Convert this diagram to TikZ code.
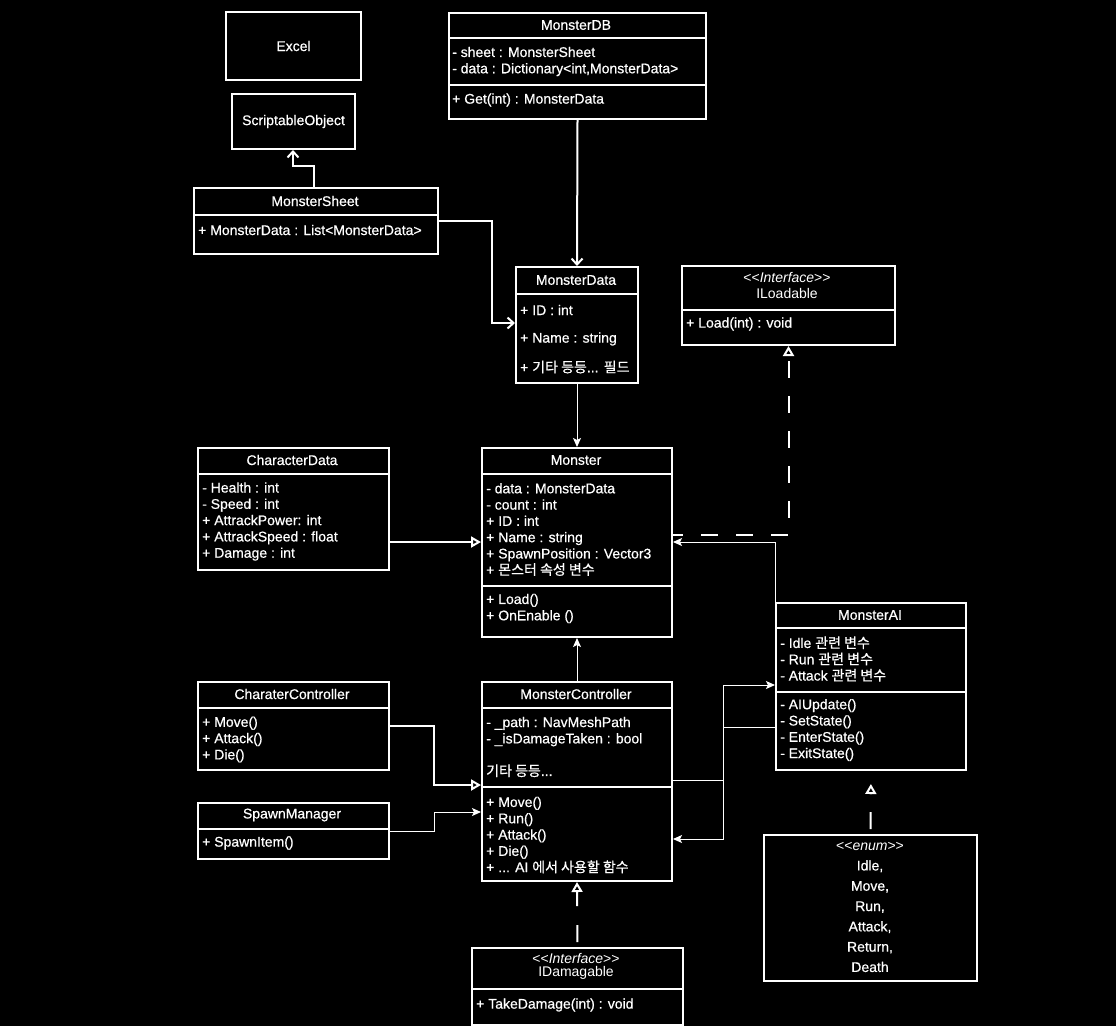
\documentclass[tikz,border=0pt]{standalone}
\usepackage{fontspec}
\setmainfont{Liberation Sans}[FakeBold=0.6]
\newfontfamily\plain{Liberation Sans}
\newfontfamily\kr{Noto Sans CJK KR}[FakeBold=0.6]
\usetikzlibrary{arrows.meta}
\tikzset{
  class-box/.style={
    draw=white,
    line width=2pt,
    inner sep=0pt,
    text=white,
    anchor=north west
  },
  sep-line/.style={draw=white, line width=1.5pt},
  title/.style={text=white, inner sep=0pt},
  rows/.style={text=white, inner sep=0pt, anchor=west, align=left},
  enum-rows/.style={
    text=white,
    inner sep=0pt,
    align=center,
    font=\fontsize{14}{20.3}\selectfont
  },
  link/.style={draw=white, line width=2pt},
  link-thin/.style={draw=white, line width=1pt},
  realize/.style={draw=white, line width=2pt, dash pattern=on 17pt off 18pt},
  barb/.style={-{Straight Barb[length=6pt,width=11pt]}},
  sharp/.style={-{Stealth[length=9pt,width=8pt,inset=2pt]}},
  hollow/.style={-{Triangle[open,length=10pt,width=11pt]}}
}

\begin{document}
\begin{tikzpicture}[x=1pt, y=-1pt, font=\fontsize{14}{16.3}\selectfont]
  \fill[black] (0,0) rectangle (1116,1026);

  % top left
  \node[class-box, minimum width=135pt, minimum height=68pt] (excel) at (225,11) {Excel};
  \node[class-box, minimum width=123pt, minimum height=55pt] (sobj) at (231,93) {ScriptableObject};

  \node[class-box, minimum width=244pt, minimum height=66pt] (msheet) at (193,187) {};
  \draw[sep-line] (msheet.west |- 0,215) -- (msheet.east |- 0,215);
  \node[title] (msheet-t) at (315,201) {MonsterSheet};
  \node[rows] (msheet-a) at (198,230) {+ MonsterData : List<MonsterData>};

  % data side
  \node[class-box, minimum width=257pt, minimum height=106pt] (mdb) at (448,12) {};
  \draw[sep-line] (mdb.west |- 0,38) -- (mdb.east |- 0,38);
  \draw[sep-line] (mdb.west |- 0,85) -- (mdb.east |- 0,85);
  \node[title] (mdb-t) at (576,25) {MonsterDB};
  \node[rows] (mdb-a) at (452,61.5) {- sheet : MonsterSheet\\- data : Dictionary<int,MonsterData>};
  \node[rows] (mdb-m) at (452,100) {+ Get(int) : MonsterData};

  \node[class-box, minimum width=122pt, minimum height=116pt] (mdata) at (515,266) {};
  \draw[sep-line] (mdata.west |- 0,294) -- (mdata.east |- 0,294);
  \node[title] (mdata-t) at (576,280) {MonsterData};
  \node[rows] (mdata-a1) at (520,310) {+ ID : int};
  \node[rows] (mdata-a2) at (520,339) {+ Name : string};
  \node[rows] (mdata-a3) at (520,367) {+ {\kr 기타 등등}... {\kr 필드}};

  \node[class-box, minimum width=213pt, minimum height=79pt] (iload) at (681,265) {};
  \draw[sep-line] (iload.west |- 0,310) -- (iload.east |- 0,310);
  \node[title] (iload-s) at (787,277) {\plain <{}<\textit{Interface}>{}>};
  \node[title] (iload-t) at (787,293) {\plain ILoadable};
  \node[rows] (iload-m) at (686,324) {+ Load(int) : void};

  % middle row
  \node[class-box, minimum width=191pt, minimum height=122pt] (cdata) at (197,447) {};
  \draw[sep-line] (cdata.west |- 0,474) -- (cdata.east |- 0,474);
  \node[title] (cdata-t) at (292,460) {CharacterData};
  \node[rows] (cdata-a) at (202,521.5) {- Health : int\\- Speed : int\\+ AttrackPower: int\\+ AttrackSpeed : float\\+ Damage : int};

  \node[class-box, minimum width=190pt, minimum height=189pt] (monster) at (481,447) {};
  \draw[sep-line] (monster.west |- 0,474) -- (monster.east |- 0,474);
  \draw[sep-line] (monster.west |- 0,586) -- (monster.east |- 0,586);
  \node[title] (monster-t) at (576,460) {Monster};
  \node[rows] (monster-a) at (486,529.5) {- data : MonsterData\\- count : int\\+ ID : int\\+ Name : string\\+ SpawnPosition : Vector3\\+ {\kr 몬스터 속성 변수}};
  \node[rows] (monster-m) at (486,608.5) {+ Load()\\+ OnEnable ()};

  % controllers
  \node[class-box, minimum width=191pt, minimum height=88pt] (cctrl) at (197,681) {};
  \draw[sep-line] (cctrl.west |- 0,708) -- (cctrl.east |- 0,708);
  \node[title] (cctrl-t) at (292,694) {CharaterController};
  \node[rows] (cctrl-m) at (202,739.5) {+ Move()\\+ Attack()\\+ Die()};

  \node[class-box, minimum width=191pt, minimum height=56pt] (spawn) at (197,802) {};
  \draw[sep-line] (spawn.west |- 0,829) -- (spawn.east |- 0,829);
  \node[title] (spawn-t) at (292,815) {SpawnManager};
  \node[rows] (spawn-m) at (202,843) {+ SpawnItem()};

  \node[class-box, minimum width=190pt, minimum height=199pt] (mctrl) at (481,681) {};
  \draw[sep-line] (mctrl.west |- 0,708) -- (mctrl.east |- 0,708);
  \draw[sep-line] (mctrl.west |- 0,787) -- (mctrl.east |- 0,787);
  \node[title] (mctrl-t) at (576,694) {MonsterController};
  \node[rows] (mctrl-a) at (486,747) {- \_path : NavMeshPath\\- \_isDamageTaken : bool\\[16.3pt]{\kr 기타 등등}...};
  \node[rows] (mctrl-m) at (486,835) {+ Move()\\+ Run()\\+ Attack()\\+ Die()\\+ ... AI {\kr 에서 사용할 함수}};

  \node[class-box, minimum width=190pt, minimum height=167pt] (mai) at (775,602) {};
  \draw[sep-line] (mai.west |- 0,628) -- (mai.east |- 0,628);
  \draw[sep-line] (mai.west |- 0,692) -- (mai.east |- 0,692);
  \node[title] (mai-t) at (870,615) {MonsterAI};
  \node[rows] (mai-a) at (780,659) {- Idle {\kr 관련 변수}\\- Run {\kr 관련 변수}\\- Attack {\kr 관련 변수}};
  \node[rows] (mai-m) at (780,730) {- AIUpdate()\\- SetState()\\- EnterState()\\- ExitState()};

  \node[class-box, minimum width=213pt, minimum height=146pt] (state) at (763,834) {};
  \node[enum-rows] (state-t) at (870,907) {{\plain <{}<\textit{enum}>{}>}\\Idle,\\Move,\\Run,\\Attack,\\Return,\\Death};

  \node[class-box, minimum width=211pt, minimum height=77pt] (idmg) at (471,947) {};
  \draw[sep-line] (idmg.west |- 0,989) -- (idmg.east |- 0,989);
  \node[title] (idmg-s) at (576,958) {\plain <{}<\textit{Interface}>{}>};
  \node[title] (idmg-t) at (576,973) {\plain IDamagable};
  \node[rows] (idmg-m) at (476,1005) {+ TakeDamage(int) : void};

  % connectors
  \draw[link, barb] (msheet.north -| 314,0) |- (293,166) -- (sobj.south -| 293,0);
  \draw[link, barb] (msheet.east) -| (492,323) -- (mdata.west |- 0,323);
  \draw[link, barb] (mdb.south) -- (mdata.north);
  \draw[link-thin, sharp] (mdata.south) -- (monster.north);
  \draw[link, hollow] (cdata.east |- 0,542) -- (monster.west |- 0,542);
  \draw[realize, dash phase=7pt, hollow] (monster.east |- 0,535) -| (iload.south);
  \draw[link-thin, sharp] (mai.north west) |- (monster.east |- 0,542);
  \draw[link-thin, sharp] (mctrl.north) -- (monster.south);
  \draw[link, hollow] (cctrl.east) -| (434,785) -- (mctrl.west |- 0,785);
  \draw[link-thin, sharp] (spawn.east) -| (434,812) -- (mctrl.west |- 0,812);
  \draw[link-thin, sharp] (mctrl.east |- 0,780) -| (723,685) -- (mai.west |- 0,685);
  \draw[link-thin, sharp] (mai.west |- 0,727) -| (723,839) -- (mctrl.east |- 0,839);
  \draw[realize, dash phase=30pt, hollow, shorten >=13pt] (state.north) -- (mai.south);
  \draw[realize, dash pattern=on 17pt off 19pt, dash phase=31pt, hollow] (idmg.north) -- (mctrl.south);
\end{tikzpicture}
\end{document}
